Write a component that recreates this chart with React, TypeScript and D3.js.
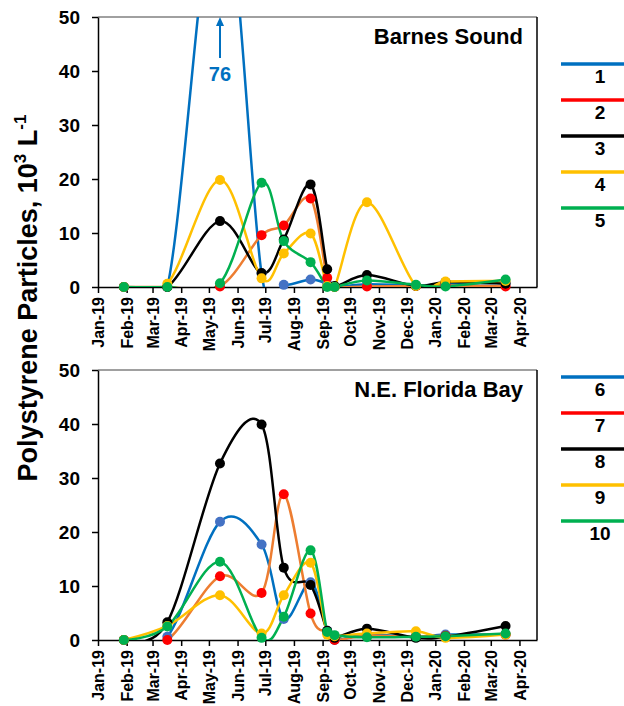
import React, { useEffect, useRef } from 'react';
import * as d3 from 'd3';

// sampling dates (same for both stations)
const sampleDates = [
  '2019-01-29', '2019-03-17', '2019-05-13', '2019-06-27', '2019-07-21', '2019-08-19',
  '2019-09-06', '2019-09-14', '2019-10-19', '2019-12-11', '2020-01-12', '2020-03-17',
];

// Barnes Sound, sites 1-5
const site1 = [0, 0, 76, 2.5, 0.4, 1.4, 0.6, 0, 0.5, 0.3, 0.5, 0.8];
const site2 = [0, 0, 0.1, 9.6, 11.4, 16.4, 1.7, 0, 0.1, 0.2, 0.3, 0.1];
const site3 = [0, 0, 12.2, 2.6, 8.8, 19.0, 3.3, 0.2, 2.2, 0.2, 0.9, 0.6];
const site4 = [0, 0.6, 19.8, 1.6, 6.2, 9.9, 0.2, 0, 15.7, 0.2, 1.0, 1.1];
const site5 = [0, 0, 0.7, 19.3, 8.5, 4.6, 0, 0, 1.2, 0.4, 0.1, 1.4];

// N.E. Florida Bay, sites 6-10
const site6 = [0, 0.6, 21.9, 17.7, 3.9, 10.7, 1.7, 0, 1.0, 0.6, 1.0, 1.0];
const site7 = [0, 0, 11.8, 8.7, 27.0, 4.9, 1.4, 0, 0.8, 0.6, 0.8, 1.0];
const site8 = [0, 3.3, 32.7, 39.9, 13.4, 10.2, 1.7, 0.4, 2.1, 0.4, 0.6, 2.6];
const site9 = [0, 2.6, 8.3, 1.2, 8.3, 14.3, 1.0, 0.7, 1.2, 1.6, 0.4, 1.0];
const site10 = [0, 2.5, 14.5, 0.4, 4.3, 16.6, 1.5, 0.9, 0.5, 0.6, 0.7, 1.2];

const lineColors = ['#0070C0', '#ED7D31', '#000000', '#FFC000', '#00B050'];
const markerColors = ['#4472C4', '#FF0000', '#000000', '#FFC000', '#00B050'];
const legendColors = ['#0070C0', '#FF0000', '#000000', '#FFC000', '#00B050'];

const yTicks = [0, 10, 20, 30, 40, 50];

const panels = [
  { title: 'Barnes Sound', labels: ['1', '2', '3', '4', '5'], series: [site1, site2, site3, site4, site5], top: 17, peak: '76' },
  { title: 'N.E. Florida  Bay', labels: ['6', '7', '8', '9', '10'], series: [site6, site7, site8, site9, site10], top: 370, peak: null },
];

const App = () => {
  const ref = useRef<SVGSVGElement>(null);

  useEffect(() => {
    const svg = d3.select(ref.current);
    svg.selectAll('*').remove();

    const left = 98;
    const right = 537;
    const plotH = 270;
    const font = 'Arial, Liberation Sans, sans-serif';

    const parse = d3.timeParse('%Y-%m-%d');
    const dates = sampleDates.map(d => parse(d) as Date);

    const x = d3.scaleTime()
      .domain([new Date(2019, 0, 1), new Date(2020, 3, 20)])
      .range([left, right]);
    const monthTicks = d3.timeMonth.range(new Date(2019, 0, 1), new Date(2020, 3, 2));

    const defs = svg.append('defs');

    panels.forEach((p, pi) => {
      const y = d3.scaleLinear().domain([0, 50]).range([p.top + plotH, p.top]);
      const g = svg.append('g');

      defs.append('clipPath').attr('id', 'clip' + pi)
        .append('rect').attr('x', left).attr('y', p.top).attr('width', right - left).attr('height', plotH);

      // frame: grey top, black right
      g.append('line').attr('x1', left).attr('x2', right).attr('y1', p.top).attr('y2', p.top)
        .attr('stroke', '#808080').attr('stroke-width', 1.5);
      g.append('line').attr('x1', right).attr('x2', right).attr('y1', p.top).attr('y2', p.top + plotH)
        .attr('stroke', '#000').attr('stroke-width', 1.5);

      // y axis
      const yAxis = g.append('g').attr('transform', `translate(${left},0)`)
        .call(d3.axisLeft(y).tickValues(yTicks).tickSize(6).tickSizeOuter(0).tickPadding(12));
      yAxis.select('.domain').attr('stroke-width', 1.5);
      yAxis.selectAll('line').attr('stroke-width', 1.5);
      yAxis.selectAll('text').attr('font-family', font).attr('font-weight', 'bold')
        .attr('font-size', 19).attr('fill', '#000');

      // x axis
      const xAxis = g.append('g').attr('transform', `translate(0,${p.top + plotH})`)
        .call(d3.axisBottom(x).tickValues(monthTicks).tickSize(6).tickSizeOuter(0)
          .tickFormat(d => d3.timeFormat('%b-%y')(d as Date)));
      xAxis.select('.domain').attr('stroke-width', 1.5);
      xAxis.selectAll('line').attr('stroke-width', 1.5);
      xAxis.selectAll('text')
        .attr('font-family', font).attr('font-weight', 'bold').attr('font-size', 16).attr('fill', '#000')
        .attr('text-anchor', 'end').attr('dy', '0.35em')
        .attr('transform', 'translate(0,4) rotate(-90)')
        .attr('x', -6).attr('y', 0);

      // series
      const line = d3.line<number>()
        .x((_, i) => x(dates[i]))
        .y(v => y(v))
        .curve(d3.curveCardinal.tension(0));

      const plot = g.append('g').attr('clip-path', `url(#clip${pi})`);
      p.series.forEach((vals, si) => {
        plot.append('path').datum(vals)
          .attr('d', line)
          .attr('fill', 'none')
          .attr('stroke', lineColors[si])
          .attr('stroke-width', 2.5);
      });
      p.series.forEach((vals, si) => {
        g.append('g').selectAll('circle')
          .data(vals.map((v, i) => ({ v, i })).filter(d => d.v <= 50))
          .enter().append('circle')
          .attr('cx', d => x(dates[d.i]))
          .attr('cy', d => y(d.v))
          .attr('r', 5)
          .attr('fill', markerColors[si]);
      });

      // panel title
      g.append('text').attr('x', 523).attr('y', p.top + 27)
        .attr('text-anchor', 'end').attr('font-family', font).attr('font-weight', 'bold')
        .attr('font-size', 22).attr('fill', '#000').text(p.title);

      // off-scale peak annotation
      if (p.peak) {
        const px = x(dates[2]);
        g.append('line').attr('x1', px).attr('x2', px).attr('y1', p.top + 41).attr('y2', p.top + 6)
          .attr('stroke', '#0070C0').attr('stroke-width', 2);
        g.append('path')
          .attr('d', `M${px - 4},${p.top + 9} L${px},${p.top} L${px + 4},${p.top + 9} Z`)
          .attr('fill', '#0070C0');
        g.append('text').attr('x', px).attr('y', p.top + 64).attr('text-anchor', 'middle')
          .attr('font-family', font).attr('font-weight', 'bold').attr('font-size', 20)
          .attr('fill', '#0070C0').text(p.peak);
      }

      // legend
      const legTop = pi === 0 ? 64 : 377;
      p.labels.forEach((lab, li) => {
        const ly = legTop + li * 36;
        g.append('line').attr('x1', 561).attr('x2', 624).attr('y1', ly).attr('y2', ly)
          .attr('stroke', legendColors[li]).attr('stroke-width', 3.5);
        g.append('text').attr('x', 600).attr('y', ly + 19).attr('text-anchor', 'middle')
          .attr('font-family', font).attr('font-weight', 'bold').attr('font-size', 19)
          .attr('fill', '#000').text(lab);
      });
    });

    // shared y title
    const yt = svg.append('text')
      .attr('transform', 'translate(37,298) rotate(-90)')
      .attr('text-anchor', 'middle')
      .attr('font-family', font).attr('font-weight', 'bold').attr('font-size', 27)
      .attr('fill', '#000');
    yt.append('tspan').text('Polystyrene Particles, 10');
    yt.append('tspan').attr('font-size', 17).attr('dy', -11).text('3');
    yt.append('tspan').attr('dy', 11).text(' L');
    yt.append('tspan').attr('font-size', 17).attr('dy', -11).text('-1');
  }, []);

  return (
    <svg ref={ref} width={624} height={706}
      style={{ position: 'absolute', left: 0, top: 0, background: '#fff' }} />
  );
};

export default App;
